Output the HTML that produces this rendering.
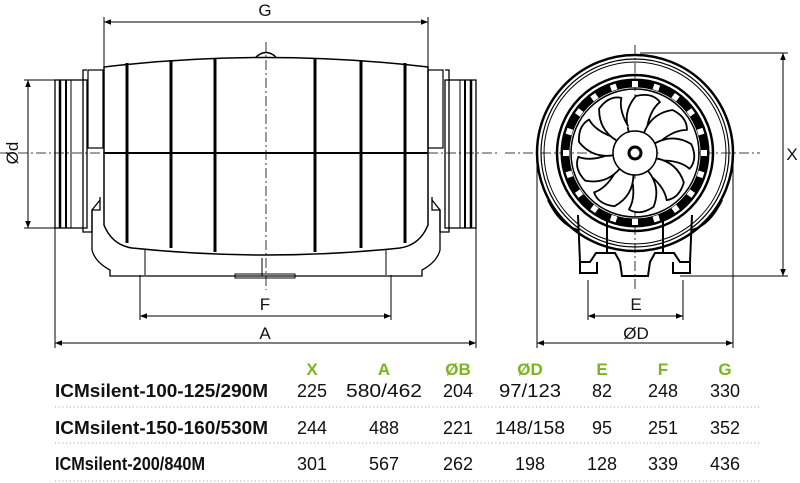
<!DOCTYPE html>
<html><head><style>
html,body{margin:0;padding:0;background:#fff;}
svg{display:block;}
text{font-family:"Liberation Sans",sans-serif;}
</style></head><body>
<svg width="800" height="483" viewBox="0 0 800 483" xmlns="http://www.w3.org/2000/svg">
<defs>
<marker id="ar" viewBox="0 0 10 10" refX="10" refY="5" markerWidth="7" markerHeight="7" orient="auto-start-reverse"><path d="M0,1 L10,5 L0,9 z" fill="#000"/></marker>
</defs>
<g fill="none" stroke="#000" stroke-width="1">
<line x1="104" y1="22" x2="428" y2="22" marker-start="url(#ar)" marker-end="url(#ar)"/>
<line x1="104" y1="17" x2="104" y2="68"/>
<line x1="428" y1="17" x2="428" y2="68"/>
<line x1="28" y1="80" x2="28" y2="228" marker-start="url(#ar)" marker-end="url(#ar)"/>
<line x1="24" y1="80" x2="60" y2="80"/>
<line x1="24" y1="228" x2="60" y2="228"/>
<line x1="55" y1="343" x2="476" y2="343" marker-start="url(#ar)" marker-end="url(#ar)"/>
<line x1="55" y1="228" x2="55" y2="348"/>
<line x1="476" y1="228" x2="476" y2="348"/>
<line x1="140" y1="316" x2="391" y2="316" marker-start="url(#ar)" marker-end="url(#ar)"/>
<line x1="140" y1="275" x2="140" y2="320"/>
<line x1="391" y1="275" x2="391" y2="320"/>
</g>
<g fill="none" stroke="#000">
<rect x="55" y="80" width="32" height="148" stroke-width="1.3"/>
<line x1="60" y1="80" x2="60" y2="228" stroke-width="2.5"/>
<line x1="66" y1="80" x2="66" y2="228" stroke-width="2"/>
<line x1="71" y1="80" x2="71" y2="228" stroke-width="1"/>
<rect x="445" y="80" width="31" height="148" stroke-width="1.3"/>
<line x1="471" y1="80" x2="471" y2="228" stroke-width="2.5"/>
<line x1="465" y1="80" x2="465" y2="228" stroke-width="2"/>
<line x1="460" y1="80" x2="460" y2="228" stroke-width="1"/>
<path d="M87,70 L83,70 L83,232 L92,232 L92,210 L100,210 L100,197" stroke-width="1.3"/>
<rect x="88" y="70" width="15" height="78" stroke-width="1.2"/>
<path d="M445,70 L449,70 L449,232 L440,232 L440,210 L432,210 L432,197" stroke-width="1.3"/>
<rect x="428" y="70" width="15" height="78" stroke-width="1.2"/>
<path d="M104,67 Q266,48 428,67 L428,225 Q420,245 400,248 Q266,262 132,248 Q112,245 104,225 Z" stroke-width="1.5"/>
<path d="M100,200 L92,210 L92,250 Q95,262 110,270 L110,276 L422,276 L422,270 Q437,262 440,250 L440,210 L432,200" stroke-width="1.3"/>
<path d="M145,250 L145,275 M386,250 L386,275 M262,258 L262,276" stroke-width="1"/>
<rect x="235" y="274" width="60" height="4" stroke-width="1"/>
<path d="M256,57 Q266,48 276,57" stroke-width="1.5"/>
<g stroke-width="3">
<line x1="127" y1="63" x2="127" y2="243"/><line x1="171" y1="60" x2="171" y2="248"/><line x1="215" y1="58" x2="215" y2="252"/>
<line x1="315" y1="58" x2="315" y2="252"/><line x1="361" y1="60" x2="361" y2="248"/><line x1="405" y1="63" x2="405" y2="243"/>
</g>
<line x1="104" y1="153" x2="428" y2="153" stroke-width="2"/>
<line x1="0" y1="153" x2="104" y2="153" stroke-width="0.8" stroke-dasharray="10,3,2,3"/>
<line x1="428" y1="153" x2="500" y2="153" stroke-width="0.8" stroke-dasharray="10,3,2,3"/>
<line x1="266" y1="42" x2="266" y2="290" stroke-width="0.8" stroke-dasharray="10,3,2,3"/>
</g>
<g fill="none" stroke="#000">
<line x1="505" y1="153" x2="760" y2="153" stroke-width="0.8" stroke-dasharray="10,3,2,3"/>
<line x1="635" y1="45" x2="635" y2="290" stroke-width="0.8" stroke-dasharray="10,3,2,3"/>
<line x1="783" y1="53" x2="783" y2="276" marker-start="url(#ar)" marker-end="url(#ar)"/>
<line x1="640" y1="53" x2="788" y2="53"/>
<line x1="680" y1="276" x2="788" y2="276"/>
<line x1="537" y1="343" x2="733" y2="343" marker-start="url(#ar)" marker-end="url(#ar)"/>
<line x1="537" y1="153" x2="537" y2="348"/>
<line x1="733" y1="153" x2="733" y2="348"/>
<line x1="588" y1="316" x2="683" y2="316" marker-start="url(#ar)" marker-end="url(#ar)"/>
<line x1="588" y1="280" x2="588" y2="320"/>
<line x1="683" y1="280" x2="683" y2="320"/>
<circle cx="635" cy="153" r="98" stroke-width="2.5"/>
<circle cx="635" cy="153" r="94" stroke-width="1.2"/>
<circle cx="635" cy="153" r="91" stroke-width="1"/>
<circle cx="635" cy="153" r="78" stroke-width="2.5"/>
<circle cx="635" cy="153" r="70" stroke-width="9"/>
<circle cx="635" cy="153" r="64" stroke-width="1.5"/>
</g>
<g fill="#fff">
<g id="sl"><rect x="632" y="81" width="6" height="6"/></g>
<use href="#sl" transform="rotate(18 635 153)"/><use href="#sl" transform="rotate(36 635 153)"/><use href="#sl" transform="rotate(54 635 153)"/>
<use href="#sl" transform="rotate(72 635 153)"/><use href="#sl" transform="rotate(90 635 153)"/><use href="#sl" transform="rotate(108 635 153)"/>
<use href="#sl" transform="rotate(126 635 153)"/><use href="#sl" transform="rotate(144 635 153)"/><use href="#sl" transform="rotate(162 635 153)"/>
<use href="#sl" transform="rotate(180 635 153)"/><use href="#sl" transform="rotate(198 635 153)"/><use href="#sl" transform="rotate(216 635 153)"/>
<use href="#sl" transform="rotate(234 635 153)"/><use href="#sl" transform="rotate(252 635 153)"/><use href="#sl" transform="rotate(270 635 153)"/>
<use href="#sl" transform="rotate(288 635 153)"/><use href="#sl" transform="rotate(306 635 153)"/><use href="#sl" transform="rotate(324 635 153)"/>
<use href="#sl" transform="rotate(342 635 153)"/>
</g>
<g fill="#fff" stroke="#000" stroke-width="1.8" stroke-linejoin="round">
<g id="bl"><path d="M629,132 Q622,112 636,96 Q652,92 660,102 Q650,110 647,128"/></g>
<use href="#bl" transform="rotate(40 635 153)"/><use href="#bl" transform="rotate(80 635 153)"/><use href="#bl" transform="rotate(120 635 153)"/>
<use href="#bl" transform="rotate(160 635 153)"/><use href="#bl" transform="rotate(200 635 153)"/><use href="#bl" transform="rotate(240 635 153)"/>
<use href="#bl" transform="rotate(280 635 153)"/><use href="#bl" transform="rotate(320 635 153)"/>
</g>
<circle cx="635" cy="153" r="22" stroke="#000" stroke-width="1.5" fill="#fff"/>
<circle cx="635" cy="153" r="6" stroke="#000" stroke-width="3" fill="none"/>
<g fill="none" stroke="#000" stroke-width="2">
<path d="M578,215 L580,262 L590,262 L596,253 L615,253 L620,262 L622,276 L648,276 L650,262 L655,253 L674,253 L680,262 L690,262 L692,215"/>
<line x1="607" y1="218" x2="607" y2="253"/><line x1="663" y1="218" x2="663" y2="253"/>
<path d="M580,262 L580,273 L597,273 L597,262 M673,262 L673,273 L690,273 L690,262"/>
<path d="M548,200 Q560,225 578,230 M722,200 Q710,225 692,230"/>
</g>
<g font-size="17" fill="#111" text-anchor="middle">
<text x="265" y="16">G</text>
<text x="265" y="310">F</text>
<text x="265" y="339">A</text>
<text x="636" y="310">E</text>
<text x="636" y="339">ØD</text>
<text x="792" y="160">X</text>
<text x="0" y="0" transform="translate(18,153) rotate(-90)">Ød</text>
</g>
<g font-size="17" text-anchor="middle" fill="#7ab51d" font-weight="bold">
<text x="312" y="375">X</text><text x="384" y="375">A</text><text x="458" y="375">ØB</text><text x="530" y="375">ØD</text><text x="602" y="375">E</text><text x="663" y="375">F</text><text x="725" y="375">G</text>
</g>
<g font-size="18" fill="#111" font-weight="bold">
<text x="55" y="397" textLength="213" lengthAdjust="spacingAndGlyphs">ICMsilent-100-125/290M</text>
<text x="55" y="434" textLength="213" lengthAdjust="spacingAndGlyphs">ICMsilent-150-160/530M</text>
<text x="55" y="470" textLength="150" lengthAdjust="spacingAndGlyphs">ICMsilent-200/840M</text>
</g>
<g font-size="18" fill="#111" text-anchor="middle">
<text x="312" y="397">225</text><text x="384" y="397" textLength="76" lengthAdjust="spacingAndGlyphs">580/462</text><text x="458" y="397">204</text><text x="530" y="397" textLength="62" lengthAdjust="spacingAndGlyphs">97/123</text><text x="602" y="397">82</text><text x="663" y="397">248</text><text x="725" y="397">330</text>
<text x="312" y="434">244</text><text x="384" y="434">488</text><text x="458" y="434">221</text><text x="530" y="434" textLength="70" lengthAdjust="spacingAndGlyphs">148/158</text><text x="602" y="434">95</text><text x="663" y="434">251</text><text x="725" y="434">352</text>
<text x="312" y="470">301</text><text x="384" y="470">567</text><text x="458" y="470">262</text><text x="530" y="470">198</text><text x="602" y="470">128</text><text x="663" y="470">339</text><text x="725" y="470">436</text>
</g>
<g stroke="#bbb" stroke-width="1.2" stroke-dasharray="1.2,2.5">
<line x1="55" y1="407" x2="760" y2="407"/><line x1="55" y1="443" x2="760" y2="443"/><line x1="55" y1="481" x2="760" y2="481"/>
</g>
</svg>
</body></html>
